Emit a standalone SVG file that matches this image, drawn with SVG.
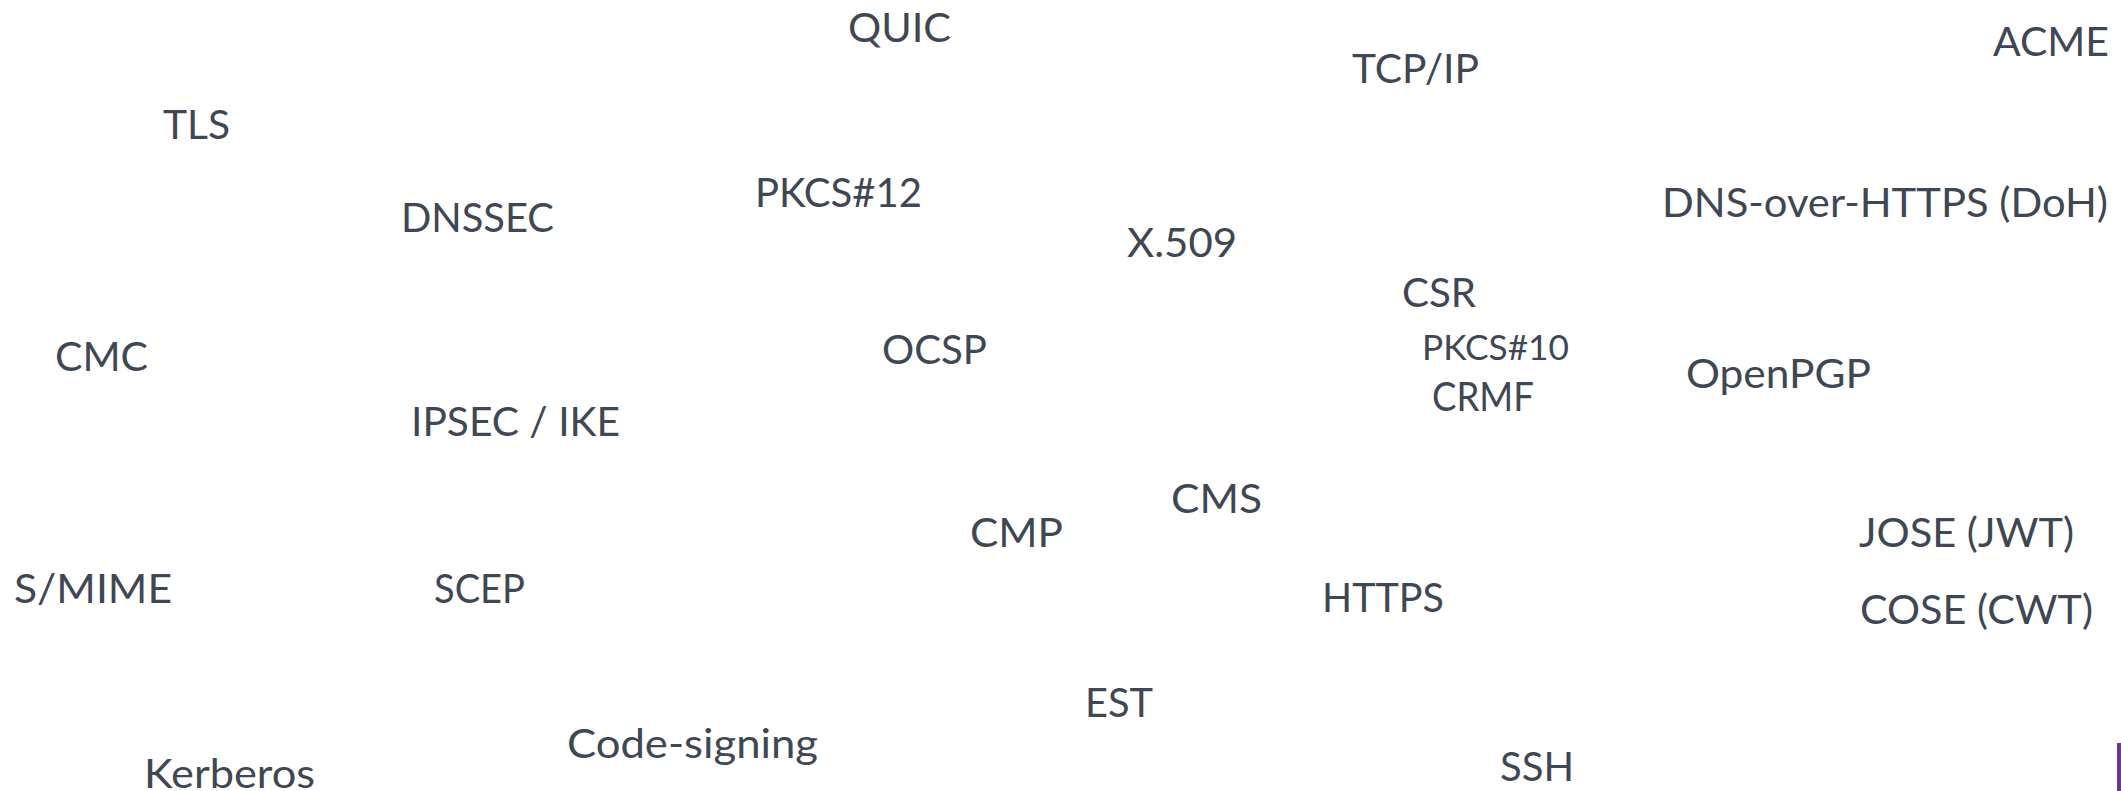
<svg xmlns="http://www.w3.org/2000/svg" width="2121" height="791" viewBox="0 0 2121 791">
<style>
text{font-family:Lato,"Open Sans","Liberation Sans",sans-serif;font-size:41px;fill:#404754}
.sm{font-size:34px}
</style>
<rect x="0" y="0" width="2121" height="791" fill="#ffffff"/>
<g id="quic"><text x="848" y="42" textLength="103" lengthAdjust="spacingAndGlyphs">QUIC</text></g>
<g id="tcpip"><text x="1352" y="83" textLength="127" lengthAdjust="spacingAndGlyphs">TCP/IP</text></g>
<g id="acme"><text x="1993" y="56" textLength="116" lengthAdjust="spacingAndGlyphs">ACME</text></g>
<g id="tls"><text x="163" y="139" textLength="67" lengthAdjust="spacingAndGlyphs">TLS</text></g>
<g id="dnssec"><text x="401" y="232" textLength="153" lengthAdjust="spacingAndGlyphs">DNSSEC</text></g>
<g id="pkcs12"><text x="755" y="207" textLength="167" lengthAdjust="spacingAndGlyphs">PKCS#12</text></g>
<g id="x509"><text x="1127" y="257" textLength="110" lengthAdjust="spacingAndGlyphs">X.509</text></g>
<g id="doh"><text x="1662" y="217" textLength="446" lengthAdjust="spacingAndGlyphs">DNS-over-HTTPS (DoH)</text></g>
<g id="csr"><text x="1402" y="307" textLength="74" lengthAdjust="spacingAndGlyphs">CSR</text></g>
<g id="cmc"><text x="55" y="371" textLength="93" lengthAdjust="spacingAndGlyphs">CMC</text></g>
<g id="ocsp"><text x="882" y="364" textLength="105" lengthAdjust="spacingAndGlyphs">OCSP</text></g>
<g id="pkcs10"><text class="sm" x="1422" y="360" textLength="147" lengthAdjust="spacingAndGlyphs">PKCS#10</text></g>
<g id="openpgp"><text x="1686" y="388" textLength="185" lengthAdjust="spacingAndGlyphs">OpenPGP</text></g>
<g id="crmf"><text x="1432" y="411" textLength="102" lengthAdjust="spacingAndGlyphs">CRMF</text></g>
<g id="ipsec"><text x="411" y="436" textLength="209" lengthAdjust="spacingAndGlyphs">IPSEC / IKE</text></g>
<g id="cms"><text x="1171" y="513" textLength="91" lengthAdjust="spacingAndGlyphs">CMS</text></g>
<g id="cmp"><text x="970" y="547" textLength="93" lengthAdjust="spacingAndGlyphs">CMP</text></g>
<g id="jose"><text x="1859" y="547" textLength="215" lengthAdjust="spacingAndGlyphs">JOSE (JWT)</text></g>
<g id="https"><text x="1322" y="612" textLength="122" lengthAdjust="spacingAndGlyphs">HTTPS</text></g>
<g id="cose"><text x="1860" y="624" textLength="233" lengthAdjust="spacingAndGlyphs">COSE (CWT)</text></g>
<g id="smime"><text x="14" y="603" textLength="158" lengthAdjust="spacingAndGlyphs">S/MIME</text></g>
<g id="scep"><text x="434" y="603" textLength="91" lengthAdjust="spacingAndGlyphs">SCEP</text></g>
<g id="est"><text x="1085" y="717" textLength="68" lengthAdjust="spacingAndGlyphs">EST</text></g>
<g id="codesigning"><text x="567" y="758" textLength="251" lengthAdjust="spacingAndGlyphs">Code-signing</text></g>
<g id="kerberos"><text x="144" y="788" textLength="171" lengthAdjust="spacingAndGlyphs">Kerberos</text></g>
<g id="ssh"><text x="1500" y="781" textLength="74" lengthAdjust="spacingAndGlyphs">SSH</text></g>
<rect id="corner-mark" x="2117" y="743" width="4" height="48" fill="#7030a0"/>
</svg>
